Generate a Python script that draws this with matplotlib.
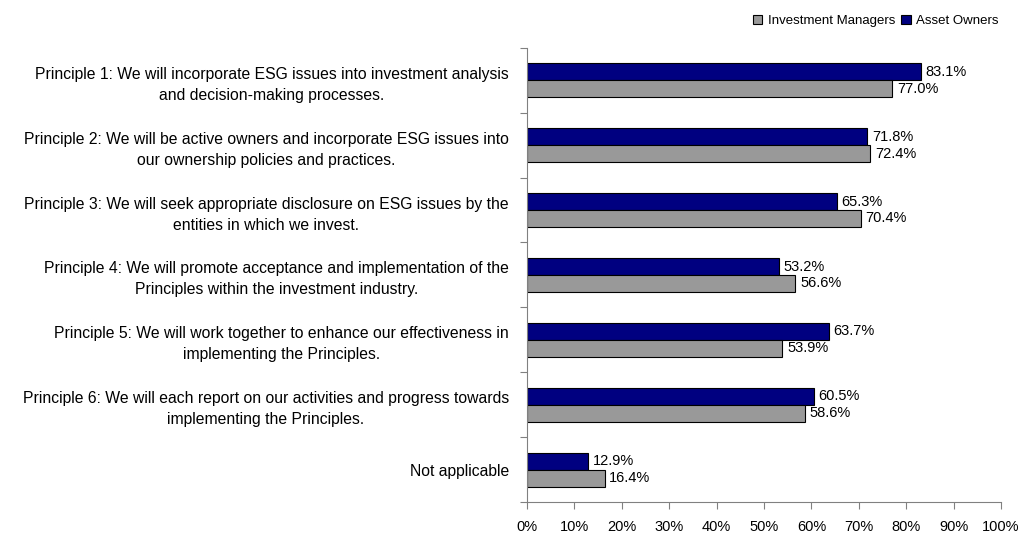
import matplotlib.pyplot as plt
import numpy as np

categories = [
    "Principle 1: We will incorporate ESG issues into investment analysis\nand decision-making processes.",
    "Principle 2: We will be active owners and incorporate ESG issues into\nour ownership policies and practices.",
    "Principle 3: We will seek appropriate disclosure on ESG issues by the\nentities in which we invest.",
    "Principle 4: We will promote acceptance and implementation of the\nPrinciples within the investment industry.",
    "Principle 5: We will work together to enhance our effectiveness in\nimplementing the Principles.",
    "Principle 6: We will each report on our activities and progress towards\nimplementing the Principles.",
    "Not applicable",
]
asset_owners = [83.1, 71.8, 65.3, 53.2, 63.7, 60.5, 12.9]
investment_managers = [77.0, 72.4, 70.4, 56.6, 53.9, 58.6, 16.4]

plt.rcParams['font.family'] = ['Liberation Sans', 'DejaVu Sans']

fig = plt.figure(figsize=(10.31, 5.37), dpi=100)
ax = fig.add_axes([0.511, 0.065, 0.46, 0.846])

n = len(categories)
y = np.arange(n)
h = 0.26

b1 = ax.barh(y - h / 2, asset_owners, height=h, color="#000080",
             edgecolor="black", linewidth=0.8, label="Asset Owners")
b2 = ax.barh(y + h / 2, investment_managers, height=h, color="#999999",
             edgecolor="black", linewidth=0.8, label="Investment Managers")

for bars, vals in ((b1, asset_owners), (b2, investment_managers)):
    for bar, v in zip(bars, vals):
        ax.text(v + 1.0, bar.get_y() + bar.get_height() / 2, f"{v:.1f}%",
                va="center", ha="left", fontsize=10.5)

ax.set_ylim(n - 0.5, -0.5)
ax.set_xlim(0, 100)
ax.set_xticks(np.arange(0, 101, 10))
ax.set_xticklabels([f"{t}%" for t in range(0, 101, 10)], fontsize=10.5)
ax.set_yticks(np.arange(-0.5, n, 1.0))
ax.set_yticklabels([])
ax.set_yticks(y, minor=True)
ax.set_yticklabels(categories, minor=True, fontsize=11.3, ha="right",
                   multialignment="center", linespacing=1.5)
ax.tick_params(axis="y", which="minor", length=0, pad=13)
ax.tick_params(axis="y", which="major", length=5, direction="out", color="#808080")
ax.tick_params(axis="x", length=5, direction="out", color="#808080", pad=8)

for s in ("top", "right"):
    ax.spines[s].set_visible(False)
for s in ("left", "bottom"):
    ax.spines[s].set_color("#808080")

handles = [b2, b1]
fig.legend(handles, ["Investment Managers", "Asset Owners"], loc="upper right",
           bbox_to_anchor=(0.98, 0.995), ncol=2, frameon=False, fontsize=9.5,
           handlelength=0.7, handleheight=0.7, handletextpad=0.4, columnspacing=0.5)

plt.savefig("out.png", dpi=100)
plt.close()
